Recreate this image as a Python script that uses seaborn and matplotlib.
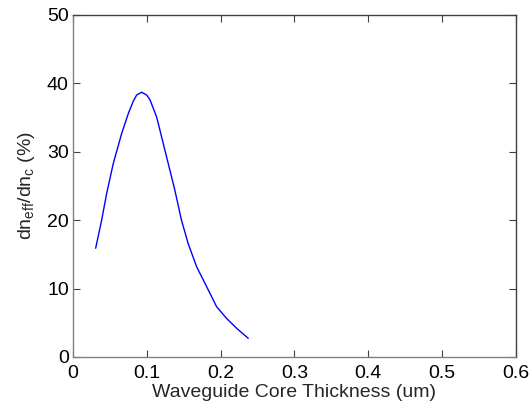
import pandas as pd
import matplotlib
matplotlib.use("Agg")
import matplotlib.pyplot as plt
import seaborn as sns

# Core thickness (um) and sensitivity dn_eff/dn_c (%)
thickness = [0.0307, 0.0388, 0.0456, 0.0546, 0.066, 0.075, 0.0817, 0.0863,
             0.093, 0.0998, 0.1043, 0.1133, 0.120, 0.129, 0.138, 0.147,
             0.156, 0.1675, 0.181, 0.1946, 0.208, 0.2217, 0.2375]
sensitivity = [15.9, 20.0, 23.9, 28.3, 32.7, 35.6, 37.4, 38.3,
               38.7, 38.3, 37.6, 35.1, 32.2, 28.3, 24.4, 20.0,
               16.6, 13.2, 10.3, 7.35, 5.65, 4.2, 2.73]

x_ticks = [0, 0.1, 0.2, 0.3, 0.4, 0.5, 0.6]
x_tick_labels = ["0", "0.1", "0.2", "0.3", "0.4", "0.5", "0.6"]
y_ticks = [0, 10, 20, 30, 40, 50]

df = pd.DataFrame({"thickness": thickness, "sensitivity": sensitivity})

sns.set_style("white")
plt.rcParams["font.family"] = ["Liberation Sans", "DejaVu Sans"]

fig = plt.figure(figsize=(5.29, 4.07), dpi=100)
ax = fig.add_axes([0.138, 0.1229, 0.837, 0.8403])

sns.lineplot(data=df, x="thickness", y="sensitivity", color="#0000ff",
             linewidth=1.0, ax=ax)

ax.set_xlim(0, 0.6)
ax.set_ylim(0, 50)
ax.set_xticks(x_ticks)
ax.set_xticklabels(x_tick_labels)
ax.set_yticks(y_ticks)

ax.tick_params(direction="in", length=5, width=0.8, colors="#404040",
               labelcolor="#000000", labelsize=14, top=True, right=True,
               bottom=True, left=True)
ax.tick_params(axis="x", pad=6)
ax.tick_params(axis="y", pad=3)

for side in ["top", "right"]:
    ax.spines[side].set_color("#404040")
for side in ["left", "bottom"]:
    ax.spines[side].set_color("#808080")
for s in ax.spines.values():
    s.set_linewidth(1.0)
    s.set_visible(True)

ax.set_xlabel("Waveguide Core Thickness (um)", fontsize=14, labelpad=1)
ax.set_ylabel(r"dn$_{\mathregular{eff}}$/dn$_{\mathregular{c}}$ (%)",
              fontsize=14, labelpad=7)

fig.savefig("out.png", dpi=100)
